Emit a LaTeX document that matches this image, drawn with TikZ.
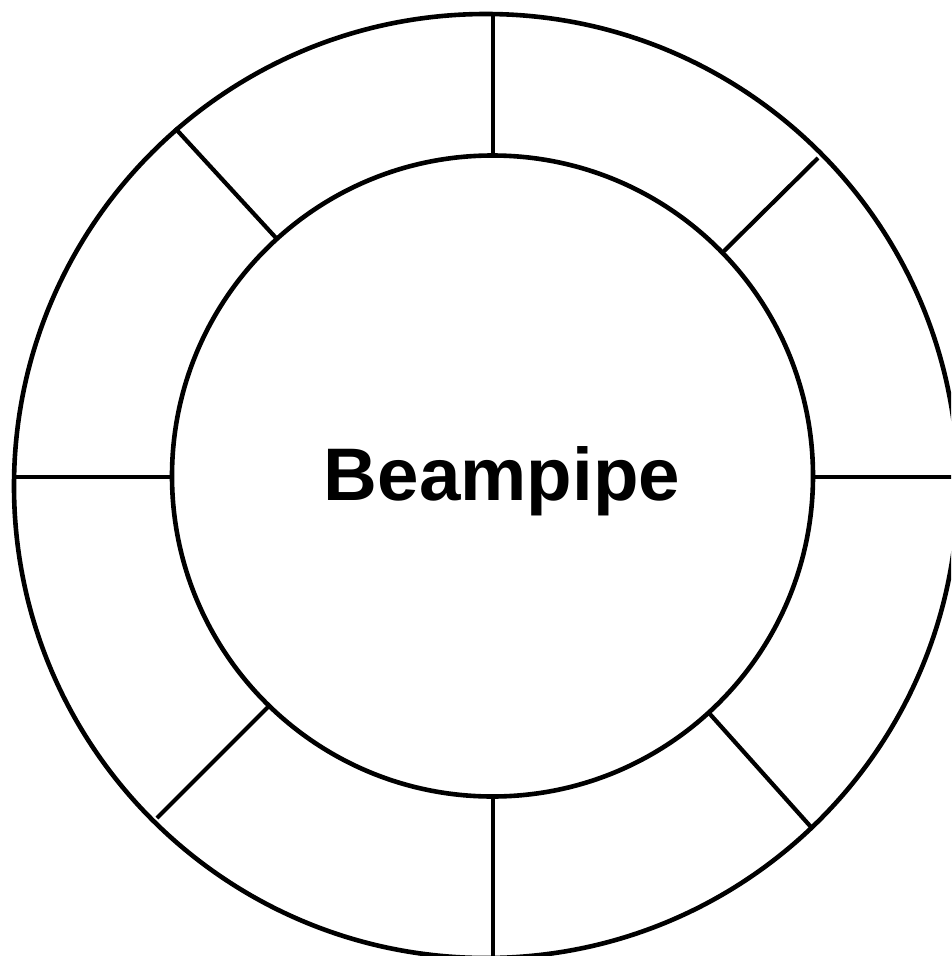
\documentclass[tikz,border=0pt]{standalone}
\usepackage{fontspec}
\setmainfont{Liberation Sans}
\begin{document}
\begin{tikzpicture}[x=1pt,y=-1pt,
  ring/.style={draw=black,line width=4.6pt,circle,inner sep=0pt},
  spoke/.style={draw=black,line width=4.2pt},
  label/.style={font=\bfseries\fontsize{74.5}{80}\selectfont,inner sep=0pt,anchor=base}]
\useasboundingbox (0,0) rectangle (951,956);
\clip (0,0) rectangle (951,956);
\fill[white] (0,0) rectangle (951,956);
\node[ring,minimum size=944pt] (outer) at (486,486) {};
\node[ring,minimum size=641pt] (inner) at (492.5,476) {};
\node[label] (beampipe) at (502,500) {Beampipe};
% spoke end points
\coordinate (t1) at (493,13);   \coordinate (t2) at (493,156);
\coordinate (b1) at (493,796);  \coordinate (b2) at (493,960);
\coordinate (l1) at (13,477);   \coordinate (l2) at (172,477);
\coordinate (r1) at (813,477);  \coordinate (r2) at (960,477);
\coordinate (ul1) at (175,128); \coordinate (ul2) at (277,239);
\coordinate (ur1) at (818,158); \coordinate (ur2) at (723,252);
\coordinate (ll1) at (157,818); \coordinate (ll2) at (268,707);
\coordinate (lr1) at (709,713); \coordinate (lr2) at (811,827);
\draw[spoke] (t1) -- (t2);
\draw[spoke] (b1) -- (b2);
\draw[spoke] (l1) -- (l2);
\draw[spoke] (r1) -- (r2);
\draw[spoke] (ul1) -- (ul2);
\draw[spoke] (ur1) -- (ur2);
\draw[spoke] (ll1) -- (ll2);
\draw[spoke] (lr1) -- (lr2);
\end{tikzpicture}
\end{document}
